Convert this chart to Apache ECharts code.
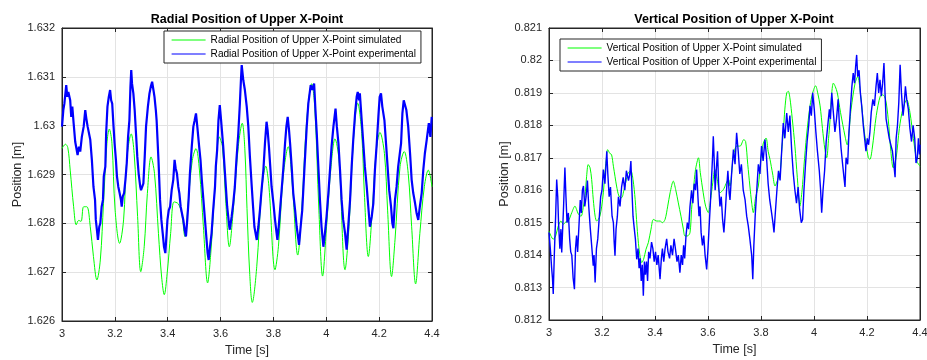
<!DOCTYPE html>
<html>
<head>
<meta charset="utf-8">
<script src="https://cdn.jsdelivr.net/npm/echarts@6/dist/echarts.min.js"></script>
<style>
html,body{margin:0;padding:0;background:#fff;}
#chart{width:927px;height:360px;}
</style>
</head>
<body>
<div id="chart"></div>
<script>
// ---------- data ----------
const titles = ['Radial Position of Upper X-Point', 'Vertical Position of Upper X-Point'];
const seriesNames = [
  ['Radial Position of Upper X-Point simulated', 'Radial Position of Upper X-Point experimental'],
  ['Vertical Position of Upper X-Point simulated', 'Vertical Position of Upper X-Point experimental']
];
const xTicks = [3, 3.2, 3.4, 3.6, 3.8, 4, 4.2, 4.4];
const radialTicks = [1.626, 1.627, 1.628, 1.629, 1.63, 1.631, 1.632];
const verticalTicks = [0.812, 0.813, 0.814, 0.815, 0.816, 0.817, 0.818, 0.819, 0.82, 0.821];

const radSimT = [3.000,3.013,3.022,3.031,3.044,3.054,3.063,3.072,3.082,3.094,3.107,3.119,3.132,3.145,3.157,3.170,3.179,3.189,3.201,3.218,3.233,3.245,3.262,3.273,3.286,3.298,3.311,3.323,3.337,3.350,3.365,3.377,3.387,3.398,3.411,3.424,3.440,3.453,3.465,3.478,3.493,3.507,3.520,3.535,3.551,3.563,3.579,3.595,3.607,3.620,3.633,3.648,3.667,3.682,3.692,3.700,3.710,3.720,3.737,3.755,3.771,3.783,3.806,3.819,3.837,3.856,3.872,3.892,3.907,3.926,3.945,3.957,3.972,3.986,4.001,4.018,4.033,4.048,4.071,4.086,4.102,4.119,4.134,4.144,4.159,4.175,4.188,4.203,4.220,4.232,4.247,4.260,4.279,4.295,4.310,4.323,4.338,4.354,4.371,4.386,4.400];
const radSimV = [1.62953,1.62962,1.62955,1.62909,1.62834,1.62797,1.62806,1.62804,1.62834,1.62834,1.62793,1.62732,1.62684,1.62725,1.62841,1.62964,1.62993,1.62964,1.62827,1.62759,1.62807,1.62930,1.62983,1.62943,1.62814,1.62701,1.62752,1.62861,1.62936,1.62902,1.62779,1.62690,1.62654,1.62698,1.62779,1.62844,1.62840,1.62820,1.62773,1.62847,1.62929,1.62953,1.62909,1.62793,1.62678,1.62739,1.62875,1.62977,1.62957,1.62841,1.62752,1.62827,1.62957,1.63005,1.62950,1.62830,1.62700,1.62638,1.62712,1.62862,1.62917,1.62875,1.62705,1.62753,1.62896,1.62957,1.62875,1.62735,1.62827,1.63011,1.63086,1.63032,1.62827,1.62692,1.62793,1.62916,1.62973,1.62930,1.62705,1.62793,1.62964,1.63046,1.62984,1.62862,1.62732,1.62834,1.62943,1.62986,1.62943,1.62827,1.62691,1.62766,1.62916,1.62947,1.62902,1.62793,1.62676,1.62779,1.62875,1.62909,1.62875];

const radExpT = [3.000,3.005,3.009,3.016,3.020,3.024,3.031,3.035,3.039,3.044,3.050,3.059,3.064,3.069,3.075,3.082,3.088,3.092,3.097,3.107,3.113,3.119,3.125,3.128,3.132,3.136,3.141,3.145,3.150,3.155,3.158,3.164,3.167,3.172,3.177,3.182,3.186,3.190,3.195,3.199,3.204,3.208,3.213,3.218,3.223,3.226,3.230,3.235,3.240,3.245,3.250,3.255,3.259,3.262,3.265,3.270,3.275,3.280,3.285,3.290,3.296,3.299,3.304,3.308,3.313,3.318,3.325,3.331,3.336,3.341,3.346,3.350,3.355,3.358,3.365,3.371,3.376,3.381,3.386,3.391,3.395,3.399,3.404,3.409,3.415,3.421,3.426,3.430,3.435,3.440,3.444,3.449,3.454,3.459,3.464,3.469,3.474,3.479,3.484,3.491,3.497,3.502,3.507,3.512,3.519,3.524,3.529,3.535,3.541,3.547,3.551,3.555,3.560,3.566,3.572,3.579,3.582,3.587,3.592,3.597,3.602,3.610,3.615,3.620,3.625,3.629,3.633,3.635,3.642,3.648,3.654,3.660,3.667,3.673,3.677,3.680,3.686,3.692,3.699,3.705,3.711,3.718,3.723,3.728,3.737,3.743,3.749,3.755,3.762,3.768,3.774,3.778,3.783,3.788,3.793,3.800,3.806,3.815,3.820,3.825,3.831,3.837,3.844,3.849,3.854,3.859,3.863,3.869,3.875,3.882,3.888,3.897,3.903,3.909,3.917,3.926,3.932,3.941,3.947,3.954,3.959,3.964,3.970,3.976,3.982,3.989,3.995,4.001,4.008,4.014,4.020,4.027,4.035,4.040,4.046,4.052,4.058,4.064,4.071,4.077,4.083,4.090,4.096,4.102,4.109,4.115,4.119,4.124,4.127,4.134,4.140,4.146,4.153,4.159,4.165,4.172,4.178,4.184,4.191,4.197,4.202,4.207,4.212,4.220,4.226,4.232,4.238,4.245,4.250,4.254,4.260,4.266,4.272,4.283,4.288,4.293,4.298,4.303,4.310,4.317,4.323,4.329,4.336,4.342,4.348,4.354,4.361,4.367,4.373,4.380,4.388,4.394,4.399];
const radExpV = [1.62998,1.63032,1.63045,1.63083,1.63059,1.63069,1.63052,1.63018,1.63039,1.63005,1.62967,1.62940,1.62957,1.62947,1.62977,1.62998,1.63032,1.63015,1.62998,1.62971,1.62930,1.62875,1.62848,1.62807,1.62787,1.62766,1.62793,1.62800,1.62834,1.62848,1.62896,1.62916,1.62984,1.63039,1.63059,1.63073,1.63052,1.63045,1.62998,1.62964,1.62930,1.62896,1.62875,1.62862,1.62848,1.62834,1.62855,1.62862,1.62889,1.62923,1.62977,1.63011,1.63080,1.63114,1.63086,1.63066,1.63032,1.62984,1.62936,1.62902,1.62875,1.62868,1.62872,1.62882,1.62936,1.62998,1.63039,1.63066,1.63080,1.63090,1.63073,1.63059,1.63032,1.63011,1.62930,1.62848,1.62807,1.62780,1.62752,1.62739,1.62773,1.62807,1.62827,1.62834,1.62868,1.62889,1.62930,1.62913,1.62902,1.62875,1.62862,1.62834,1.62820,1.62807,1.62787,1.62773,1.62807,1.62848,1.62902,1.62957,1.62998,1.63011,1.63025,1.62998,1.62957,1.62930,1.62889,1.62848,1.62807,1.62766,1.62739,1.62725,1.62752,1.62780,1.62827,1.62875,1.62916,1.62950,1.63011,1.63042,1.63011,1.62957,1.62916,1.62875,1.62834,1.62814,1.62793,1.62787,1.62814,1.62841,1.62875,1.62930,1.62984,1.63045,1.63093,1.63124,1.63093,1.63073,1.63039,1.62998,1.62936,1.62875,1.62834,1.62793,1.62766,1.62793,1.62827,1.62868,1.62909,1.62964,1.63008,1.62991,1.62957,1.62916,1.62875,1.62841,1.62807,1.62766,1.62793,1.62827,1.62868,1.62909,1.62964,1.62998,1.63018,1.62991,1.62964,1.62916,1.62862,1.62827,1.62793,1.62756,1.62793,1.62827,1.62909,1.62998,1.63045,1.63083,1.63073,1.63086,1.63032,1.62984,1.62916,1.62848,1.62793,1.62752,1.62780,1.62814,1.62862,1.62909,1.62957,1.62998,1.63035,1.62998,1.62964,1.62909,1.62848,1.62807,1.62780,1.62746,1.62793,1.62848,1.62916,1.62971,1.63025,1.63059,1.63069,1.63052,1.63066,1.63011,1.62964,1.62916,1.62875,1.62834,1.62793,1.62814,1.62841,1.62909,1.62964,1.63018,1.63059,1.63066,1.63039,1.63011,1.62964,1.62916,1.62868,1.62834,1.62800,1.62790,1.62848,1.62875,1.62916,1.62964,1.63025,1.63052,1.63052,1.63032,1.62998,1.62943,1.62889,1.62862,1.62841,1.62820,1.62807,1.62834,1.62862,1.62909,1.62943,1.62971,1.63005,1.62977,1.63018];

const vertSimT = [3.000,3.016,3.025,3.035,3.045,3.054,3.063,3.073,3.086,3.098,3.104,3.111,3.121,3.130,3.136,3.142,3.148,3.155,3.161,3.167,3.174,3.180,3.186,3.192,3.199,3.205,3.211,3.218,3.221,3.230,3.236,3.243,3.249,3.255,3.264,3.274,3.283,3.292,3.299,3.309,3.317,3.325,3.332,3.340,3.350,3.357,3.366,3.375,3.385,3.394,3.407,3.419,3.428,3.438,3.448,3.457,3.469,3.478,3.488,3.498,3.507,3.513,3.522,3.532,3.538,3.545,3.553,3.564,3.571,3.582,3.591,3.601,3.610,3.618,3.626,3.635,3.645,3.658,3.677,3.683,3.695,3.708,3.721,3.735,3.742,3.750,3.758,3.765,3.771,3.780,3.790,3.800,3.809,3.819,3.827,3.834,3.844,3.853,3.862,3.872,3.878,3.884,3.890,3.897,3.903,3.909,3.918,3.928,3.937,3.947,3.955,3.962,3.972,3.985,3.995,4.006,4.014,4.023,4.032,4.041,4.048,4.055,4.060,4.067,4.073,4.080,4.088,4.100,4.117,4.125,4.140,4.155,4.165,4.175,4.190,4.205,4.211,4.220,4.235,4.250,4.260,4.270,4.280,4.290,4.299,4.310,4.322,4.335,4.350,4.362,4.375,4.388,4.400];
const vertSimV = [0.81474,0.81449,0.81459,0.81490,0.81505,0.81495,0.81502,0.81505,0.81531,0.81551,0.81541,0.81526,0.81520,0.81551,0.81582,0.81643,0.81679,0.81669,0.81633,0.81572,0.81520,0.81505,0.81510,0.81520,0.81551,0.81592,0.81654,0.81710,0.81725,0.81713,0.81710,0.81674,0.81643,0.81613,0.81582,0.81577,0.81602,0.81633,0.81654,0.81659,0.81633,0.81572,0.81490,0.81418,0.81377,0.81387,0.81418,0.81439,0.81480,0.81510,0.81505,0.81505,0.81500,0.81510,0.81551,0.81592,0.81628,0.81602,0.81561,0.81520,0.81480,0.81459,0.81459,0.81469,0.81541,0.81602,0.81664,0.81700,0.81654,0.81592,0.81551,0.81531,0.81572,0.81623,0.81664,0.81633,0.81592,0.81602,0.81633,0.81613,0.81700,0.81736,0.81736,0.81756,0.81750,0.81680,0.81613,0.81560,0.81531,0.81580,0.81613,0.81700,0.81746,0.81761,0.81720,0.81695,0.81650,0.81613,0.81630,0.81654,0.81720,0.81777,0.81850,0.81900,0.81905,0.81885,0.81820,0.81736,0.81640,0.81551,0.81600,0.81674,0.81770,0.81860,0.81900,0.81922,0.81900,0.81860,0.81790,0.81726,0.81700,0.81760,0.81810,0.81900,0.81930,0.81920,0.81900,0.81840,0.81767,0.81740,0.81850,0.81930,0.81950,0.81900,0.81780,0.81700,0.81695,0.81730,0.81830,0.81890,0.81894,0.81880,0.81820,0.81720,0.81669,0.81700,0.81790,0.81850,0.81879,0.81840,0.81760,0.81690,0.81674];

const vertExpT = [3.000,3.005,3.010,3.013,3.016,3.020,3.025,3.029,3.033,3.036,3.041,3.045,3.048,3.055,3.060,3.064,3.068,3.073,3.078,3.082,3.086,3.091,3.096,3.100,3.104,3.108,3.113,3.118,3.122,3.126,3.130,3.135,3.140,3.145,3.150,3.156,3.161,3.167,3.170,3.174,3.179,3.184,3.190,3.195,3.200,3.205,3.211,3.218,3.222,3.227,3.232,3.238,3.243,3.246,3.249,3.253,3.258,3.262,3.268,3.274,3.280,3.286,3.292,3.300,3.305,3.309,3.313,3.317,3.322,3.326,3.331,3.336,3.340,3.344,3.348,3.352,3.356,3.360,3.364,3.368,3.372,3.376,3.381,3.387,3.392,3.397,3.402,3.407,3.412,3.419,3.424,3.428,3.433,3.438,3.444,3.449,3.455,3.460,3.466,3.472,3.477,3.483,3.488,3.494,3.499,3.504,3.508,3.512,3.517,3.522,3.527,3.532,3.538,3.543,3.548,3.553,3.557,3.562,3.566,3.570,3.574,3.579,3.584,3.589,3.595,3.600,3.605,3.609,3.613,3.617,3.620,3.623,3.627,3.631,3.636,3.640,3.645,3.650,3.655,3.660,3.665,3.670,3.675,3.680,3.683,3.689,3.696,3.702,3.708,3.714,3.720,3.726,3.733,3.740,3.746,3.752,3.758,3.762,3.765,3.769,3.773,3.778,3.784,3.790,3.796,3.802,3.808,3.815,3.821,3.827,3.833,3.840,3.845,3.849,3.854,3.860,3.866,3.872,3.878,3.884,3.890,3.897,3.903,3.909,3.916,3.922,3.928,3.934,3.940,3.946,3.952,3.957,3.962,3.968,3.974,3.980,3.985,3.990,3.995,4.001,4.007,4.013,4.020,4.025,4.029,4.034,4.040,4.046,4.052,4.058,4.062,4.067,4.073,4.079,4.085,4.091,4.096,4.102,4.108,4.113,4.117,4.121,4.127,4.132,4.138,4.143,4.148,4.153,4.157,4.161,4.165,4.170,4.175,4.180,4.186,4.191,4.196,4.201,4.206,4.211,4.216,4.222,4.228,4.234,4.239,4.244,4.249,4.254,4.259,4.264,4.268,4.272,4.278,4.284,4.290,4.296,4.300,4.306,4.310,4.315,4.320,4.325,4.330,4.336,4.340,4.345,4.350,4.356,4.362,4.368,4.374,4.380,4.385,4.390,4.394,4.398,4.400];
const vertExpV = [0.8147,0.8142,0.8136,0.8133,0.8128,0.8140,0.8152,0.81633,0.8158,0.8150,0.8142,0.8148,0.81408,0.8155,0.8167,0.8158,0.8150,0.8153,0.8145,0.8141,0.8140,0.8133,0.81295,0.8142,0.8146,0.8141,0.8149,0.8157,0.8153,0.8160,0.81613,0.8155,0.8158,0.8163,0.8155,0.8148,0.8143,0.81367,0.8140,0.81316,0.8142,0.8145,0.8152,0.8158,0.8160,0.81664,0.8162,0.8172,0.8165,0.8158,0.8161,0.8152,0.8150,0.8144,0.81398,0.8148,0.8152,0.8158,0.8155,0.8161,0.8164,0.8160,0.8166,0.8163,0.8165,0.8169,0.8160,0.8152,0.8148,0.8145,0.81387,0.8142,0.8136,0.8139,0.8132,0.8137,0.81275,0.8138,0.8134,0.8138,0.8132,0.8141,0.8139,0.8144,0.8142,0.8138,0.8141,0.8137,0.8140,0.81326,0.8139,0.8142,0.8138,0.8142,0.8145,0.8141,0.8139,0.8143,0.8140,0.8145,0.8142,0.8138,0.8140,0.81346,0.8140,0.8137,0.8143,0.8139,0.8146,0.8150,0.8148,0.8155,0.8160,0.8156,0.8162,0.8160,0.81664,0.8158,0.8152,0.8155,0.8147,0.8143,0.8146,0.8140,0.81356,0.8142,0.8150,0.8156,0.8163,0.8170,0.81766,0.8170,0.8160,0.8166,0.8172,0.8162,0.8155,0.8158,0.8151,0.8147,0.8153,0.8160,0.8166,0.8159,0.8157,0.8165,0.81725,0.8168,0.81777,0.8172,0.8165,0.8168,0.8160,0.8157,0.8152,0.8149,0.8145,0.8142,0.81398,0.81326,0.8143,0.8152,0.8160,0.8168,0.8165,0.81736,0.8169,0.81756,0.8170,0.8162,0.8157,0.8153,0.8150,0.8147,0.8153,0.8160,0.8166,0.8163,0.8172,0.81807,0.8176,0.81838,0.8178,0.8183,0.8172,0.8165,0.8160,0.8156,0.8161,0.8154,0.8150,0.8151,0.8160,0.8168,0.8175,0.8180,0.8186,0.8183,0.8190,0.8185,0.8178,0.8172,0.8166,0.8160,0.81531,0.8160,0.8166,0.8175,0.8180,0.81849,0.8182,0.8190,0.8184,0.8178,0.8182,0.8188,0.8180,0.8173,0.8168,0.8164,0.8161,0.8170,0.8168,0.8178,0.8186,0.8192,0.81961,0.8193,0.8198,0.82017,0.8195,0.8197,0.8190,0.8186,0.8180,0.8176,0.8172,0.8176,0.8174,0.8178,0.8184,0.8188,0.8186,0.8192,0.81961,0.8190,0.8194,0.8189,0.8193,0.81992,0.8190,0.8182,0.8179,0.8176,0.8174,0.8172,0.8169,0.8164,0.8176,0.8180,0.8187,0.81987,0.8190,0.8183,0.8186,0.8192,0.8188,0.8185,0.8179,0.8175,0.8180,0.8176,0.81684,0.8170,0.8176,0.8171,0.8174];

// ---------- chart ----------
const zip = (t, v) => t.map((x, i) => [x, v[i]]);
const FONT = 'Liberation Sans, Arial, Helvetica, sans-serif';
const AX = '#262626';
const GRIDC = '#e3e3e3';

const grids = [
  {left: 62, top: 28, width: 370, height: 293},
  {left: 549, top: 28, width: 371, height: 292}
];
const yRanges = [
  {min: radialTicks[0], max: radialTicks[radialTicks.length - 1]},
  {min: verticalTicks[0], max: verticalTicks[verticalTicks.length - 1]}
];

const fmt3 = v => String(+v.toFixed(3));
const fmt1 = v => String(+v.toFixed(1));

const xAxes = [], yAxes = [];
[0, 1].forEach(g => {
  xAxes.push({
    type: 'value', gridIndex: g, position: 'bottom',
    min: xTicks[0], max: xTicks[xTicks.length - 1], interval: 0.2,
    name: 'Time [s]', nameLocation: 'middle', nameGap: 22,
    nameTextStyle: {fontFamily: FONT, fontSize: 12.5, color: AX},
    axisLine: {show: true, onZero: false, lineStyle: {color: AX, width: 1}},
    axisTick: {show: true, inside: true, length: 4, lineStyle: {color: AX}},
    axisLabel: {show: true, margin: 7, formatter: fmt1, fontFamily: FONT, fontSize: 11, color: AX, hideOverlap: false},
    splitLine: {show: true, lineStyle: {color: GRIDC, width: 1}}
  });
  xAxes.push({
    type: 'value', gridIndex: g, position: 'top',
    min: xTicks[0], max: xTicks[xTicks.length - 1], interval: 0.2,
    axisLine: {show: true, onZero: false, lineStyle: {color: AX, width: 1}},
    axisTick: {show: true, inside: true, length: 4, lineStyle: {color: AX}},
    axisLabel: {show: false}, splitLine: {show: false}
  });
  yAxes.push({
    type: 'value', gridIndex: g, position: 'left',
    min: yRanges[g].min, max: yRanges[g].max, interval: 0.001,
    name: 'Position [m]', nameLocation: 'middle', nameGap: 35,
    nameTextStyle: {fontFamily: FONT, fontSize: 12.5, color: AX},
    axisLine: {show: true, onZero: false, lineStyle: {color: AX, width: 1}},
    axisTick: {show: true, inside: true, length: 4, lineStyle: {color: AX}},
    axisLabel: {show: true, margin: 7, formatter: fmt3, fontFamily: FONT, fontSize: 11, color: AX},
    splitLine: {show: true, lineStyle: {color: GRIDC, width: 1}}
  });
  yAxes.push({
    type: 'value', gridIndex: g, position: 'right',
    min: yRanges[g].min, max: yRanges[g].max, interval: 0.001,
    axisLine: {show: true, onZero: false, lineStyle: {color: AX, width: 1}},
    axisTick: {show: true, inside: true, length: 4, lineStyle: {color: AX}},
    axisLabel: {show: false}, splitLine: {show: false}
  });
});

const lineSeries = (name, data, xi, yi, color, width, smooth, z) => ({
  name, type: 'line', data, xAxisIndex: xi, yAxisIndex: yi,
  symbol: 'none', showSymbol: false, smooth: smooth, clip: true,
  lineStyle: {color, width}, itemStyle: {color}, z
});

const series = [
  lineSeries(seriesNames[0][0], zip(radSimT, radSimV), 0, 0, '#00ff00', 1, 0.35, 2),
  lineSeries(seriesNames[0][1], zip(radExpT, radExpV), 0, 0, '#0000ff', 2.2, false, 3),
  lineSeries(seriesNames[1][0], zip(vertSimT, vertSimV), 2, 2, '#00ff00', 1, 0.3, 2),
  lineSeries(seriesNames[1][1], zip(vertExpT, vertExpV), 2, 2, '#0000ff', 1.4, false, 3)
];

const legendBase = {
  orient: 'vertical', itemWidth: 34, itemHeight: 12, itemGap: 2, itemTextGap: 3,
  padding: [3, 5, 3, 7], borderColor: AX, borderWidth: 1, backgroundColor: '#fff',
  itemStyle: {opacity: 0},
  lineStyle: {width: 1.2},
  textStyle: {fontFamily: FONT, fontSize: 10.1, color: '#000', lineHeight: 12, height: 12},
  selectedMode: false, z: 10
};

const option = {
  animation: false,
  backgroundColor: '#fff',
  title: [
    {text: titles[0], left: 242, top: 8, textAlign: 'center',
     textStyle: {fontFamily: FONT, fontSize: 12.5, fontWeight: 'bold', color: '#000'}},
    {text: titles[1], left: 729, top: 8, textAlign: 'center',
     textStyle: {fontFamily: FONT, fontSize: 12.5, fontWeight: 'bold', color: '#000'}}
  ],
  grid: grids.map(g => Object.assign({show: true, borderColor: AX, borderWidth: 1, backgroundColor: '#fff', outerBoundsMode: 'none', containLabel: false}, g)),
  xAxis: xAxes,
  yAxis: yAxes,
  legend: [
    Object.assign({}, legendBase, {left: 164, top: 31, data: seriesNames[0]}),
    Object.assign({}, legendBase, {left: 560, top: 39, data: seriesNames[1]})
  ],
  series
};

const chart = echarts.init(document.getElementById('chart'), null, {renderer: 'canvas'});
chart.setOption(option);
</script>
</body>
</html>
